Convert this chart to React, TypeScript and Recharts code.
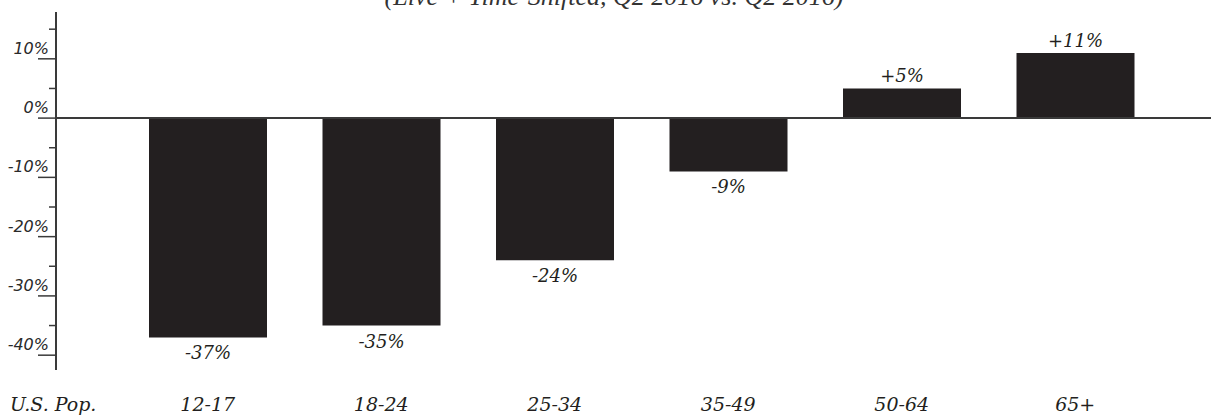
import { BarChart, Bar, XAxis, YAxis, ReferenceLine, LabelList } from "recharts";

const ageGroups = ["12-17", "18-24", "25-34", "35-49", "50-64", "65+"];
const changePct = [-37, -35, -24, -9, 5, 11];
const yTicks = [-40, -35, -30, -25, -20, -15, -10, -5, 0, 5, 10, 15];

const data = ageGroups.map((group, i) => ({ group, change: changePct[i] }));

const INK = "#231f20";
const AXIS = "#3a3a3a";

const YTick = (props: any) => {
  const { x, y, payload } = props;
  const v = payload.value;
  const major = v % 10 === 0;
  return (
    <g>
      <line x1={major ? x - 18 : x - 7} x2={x} y1={y} y2={y} stroke={AXIS} strokeWidth={1.5} />
      {major && (
        <text
          x={x - 7}
          y={y - 5}
          textAnchor="end"
          fontFamily="DejaVu Sans"
          fontStyle="italic"
          fontSize={16}
          fill="#2a2a2a"
        >
          {v}%
        </text>
      )}
    </g>
  );
};

const XTick = (props: any) => {
  const { x, payload } = props;
  return (
    <text
      x={x}
      y={411}
      textAnchor="middle"
      fontFamily="DejaVu Serif"
      fontStyle="italic"
      fontSize={19}
      fill={INK}
    >
      {payload.value}
    </text>
  );
};

const BarValue = (props: any) => {
  const { x, y, width, height, value } = props;
  const top = Math.min(y, y + height);
  const bottom = Math.max(y, y + height);
  const neg = value < 0;
  return (
    <text
      x={x + width / 2}
      y={neg ? bottom + 22 : top - 6}
      textAnchor="middle"
      fontFamily="DejaVu Serif"
      fontStyle="italic"
      fontSize={18}
      fill={INK}
    >
      {neg ? `${value}%` : `+${value}%`}
    </text>
  );
};

export default function App() {
  return (
    <div style={{ position: "absolute", left: 0, top: 0, width: 1211, height: 415, overflow: "hidden", background: "#fff" }}>
      <div
        style={{
          position: "absolute",
          top: -16,
          left: 0,
          width: 1228,
          textAlign: "center",
          fontFamily: "Liberation Serif",
          fontStyle: "italic",
          fontSize: 26,
          lineHeight: "26px",
          color: "#333",
          whiteSpace: "nowrap",
        }}
      >
        (Live + Time-Shifted, Q2 2016 vs. Q2 2016)
      </div>
      <BarChart width={1211} height={415} data={data} margin={{ top: 12, right: 0, bottom: 0, left: 0 }}>
        <XAxis
          dataKey="group"
          height={45}
          axisLine={false}
          tickLine={false}
          tick={<XTick />}
          padding={{ left: 65, right: 49 }}
          interval={0}
        />
        <YAxis
          type="number"
          width={56}
          domain={[-42.5, 17.9]}
          ticks={yTicks}
          allowDataOverflow
          interval={0}
          tickSize={0}
          tickMargin={0}
          tickLine={false}
          axisLine={{ stroke: AXIS, strokeWidth: 2 }}
          tick={<YTick />}
        />
        <Bar dataKey="change" fill={INK} barSize={118} isAnimationActive={false}>
          <LabelList dataKey="change" content={<BarValue />} />
        </Bar>
        <ReferenceLine y={0} stroke={AXIS} strokeWidth={2} />
      </BarChart>
      <div
        style={{
          position: "absolute",
          left: 10,
          top: 393,
          fontFamily: "DejaVu Serif",
          fontStyle: "italic",
          fontSize: 19,
          lineHeight: "22px",
          color: INK,
          whiteSpace: "nowrap",
        }}
      >
        U.S. Pop.
      </div>
    </div>
  );
}
